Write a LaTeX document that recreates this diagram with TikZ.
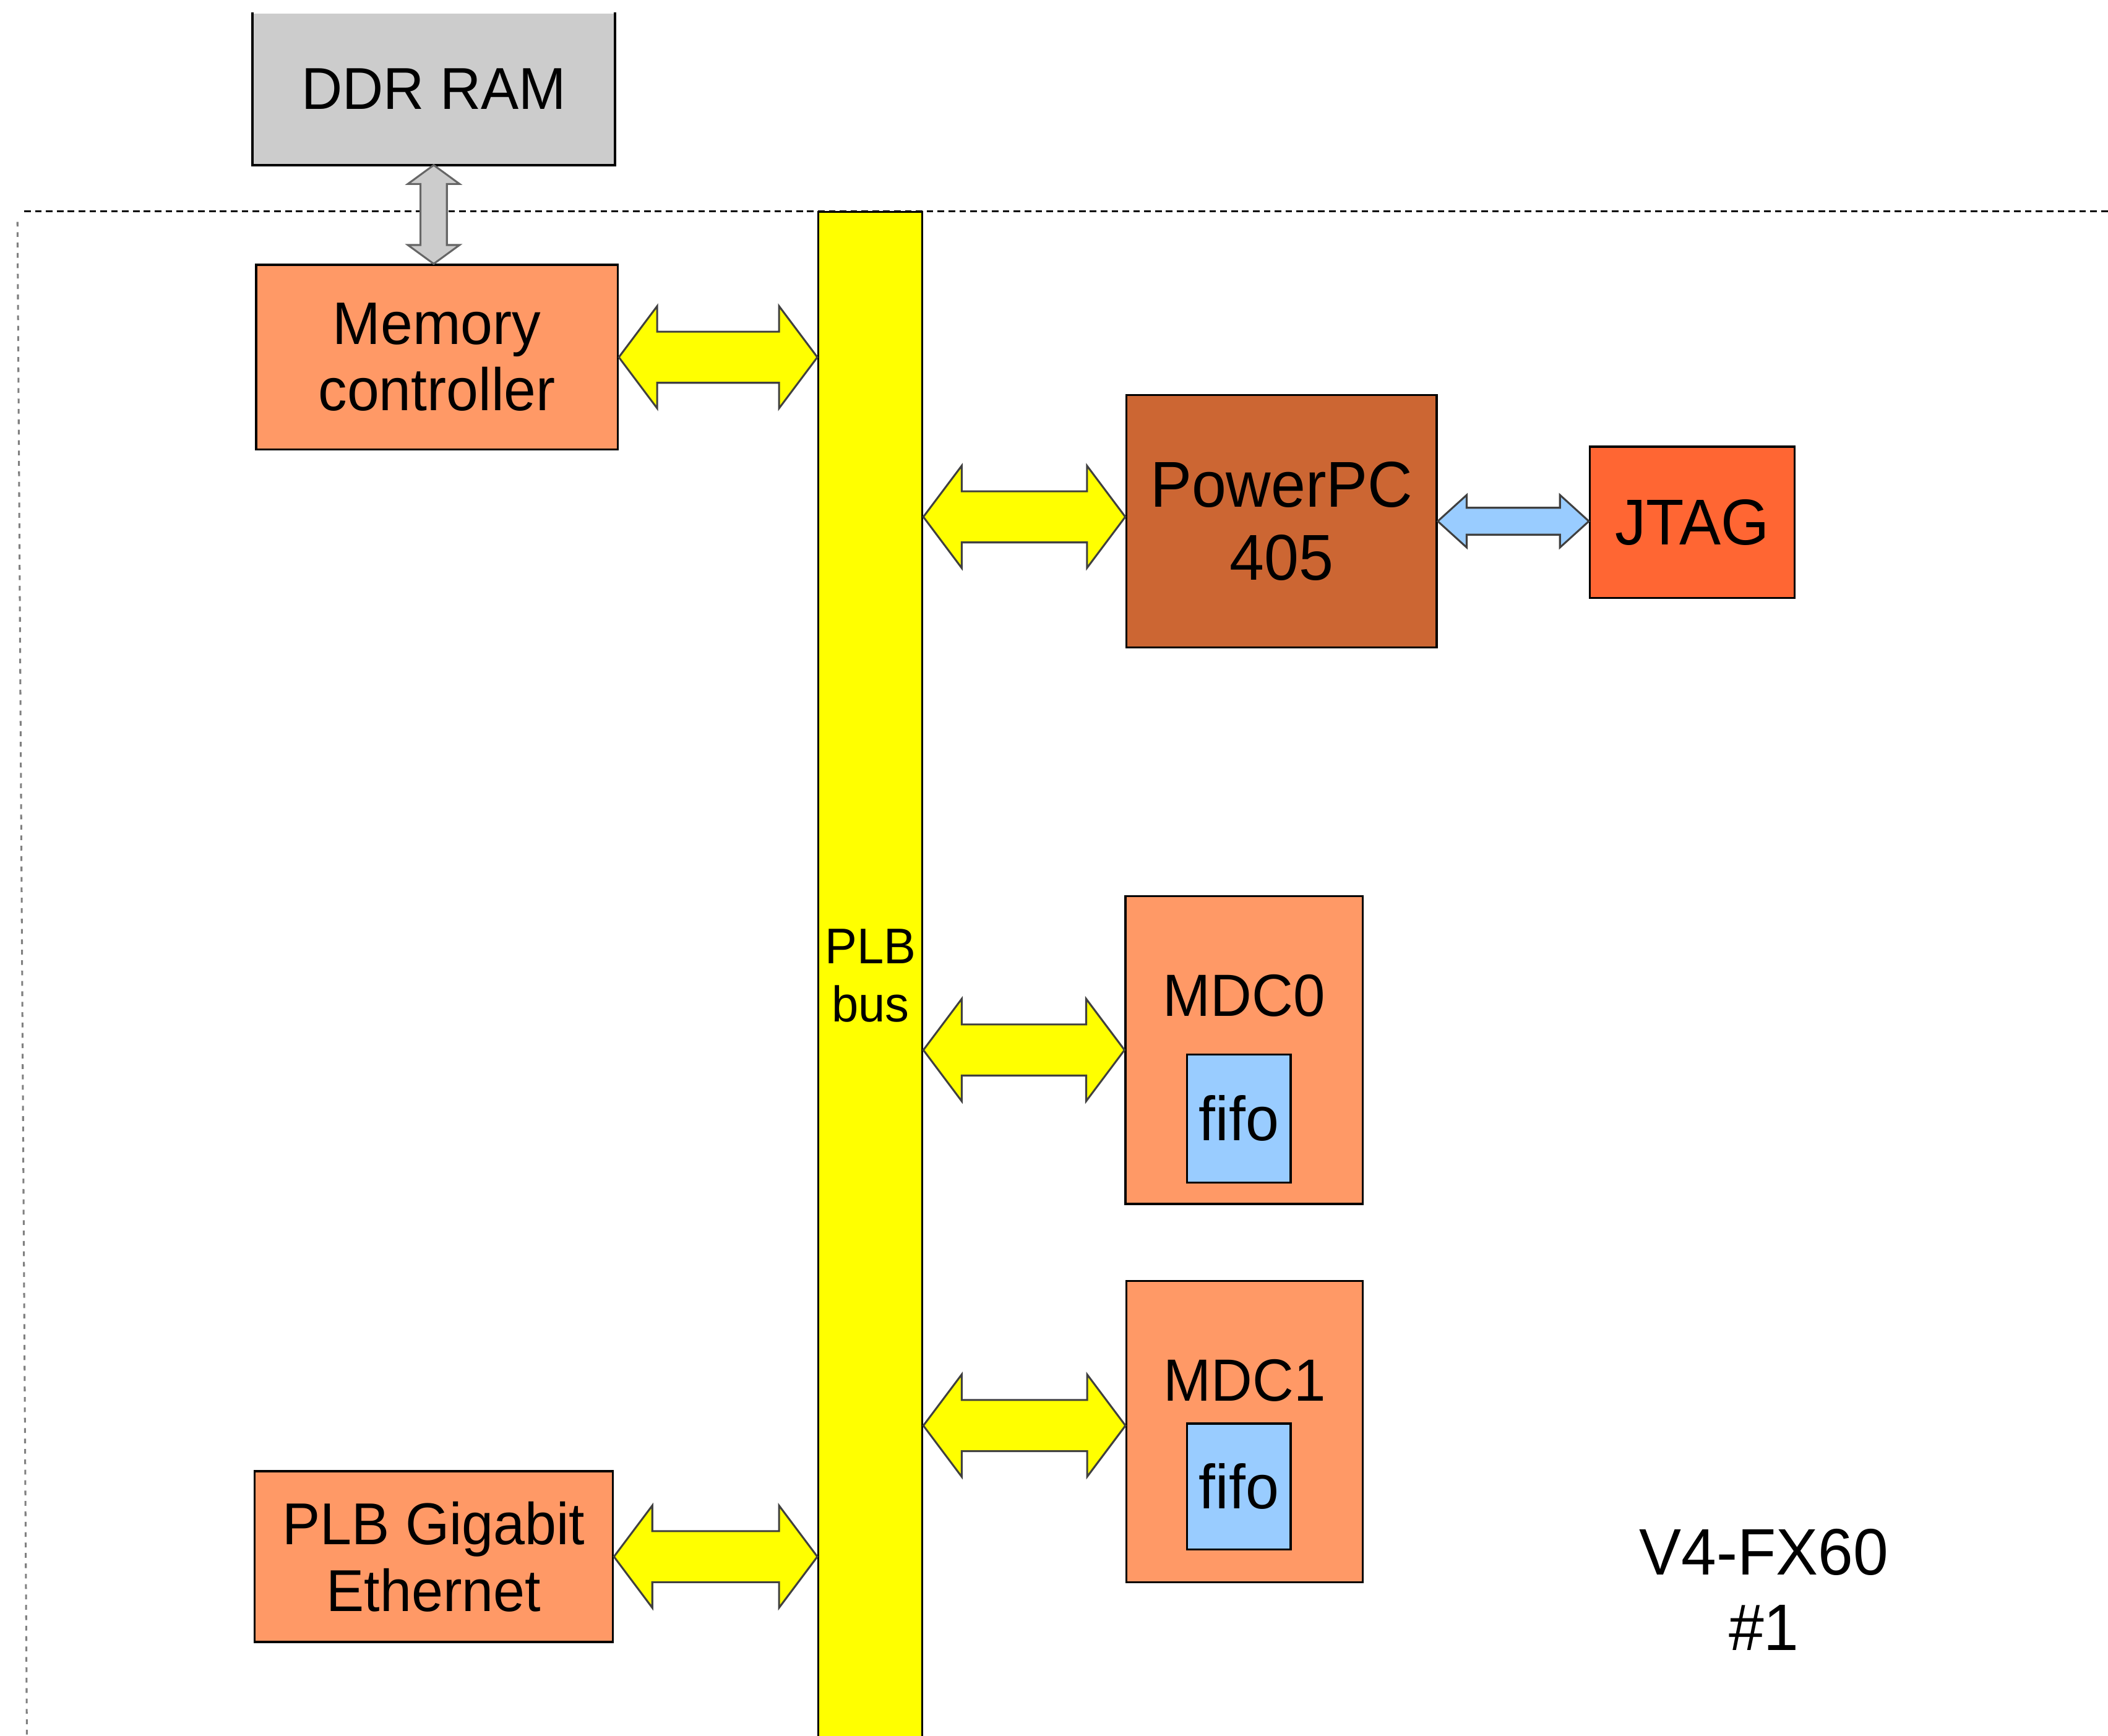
\documentclass[tikz,border=0pt]{standalone}
\usepackage{fontspec}
\setmainfont[FakeStretch=0.96]{Liberation Sans}
\usepackage{tikz}
\usetikzlibrary{calc}
\definecolor{ddrGray}{HTML}{CCCCCC}
\definecolor{coreSalmon}{HTML}{FF9966}
\definecolor{ppcBrown}{HTML}{CC6633}
\definecolor{jtagOrange}{HTML}{FF6633}
\definecolor{fifoBlue}{HTML}{99CCFF}
\definecolor{busYellow}{HTML}{FFFF00}
\newcommand{\fs}[2]{\fontsize{#1}{#2}\selectfont}
% block arrows: style, from, to, head half width, shaft half width, head length
\newcommand{\dblArrowH}[6]{\path[#1] let \p1=(#2), \p2=(#3) in
	(\x1,\y1) -- (\x1+#6,\y1+#4) -- (\x1+#6,\y1+#5) -- (\x2-#6,\y1+#5) -- (\x2-#6,\y1+#4)
	-- (\x2,\y1) -- (\x2-#6,\y1-#4) -- (\x2-#6,\y1-#5) -- (\x1+#6,\y1-#5) -- (\x1+#6,\y1-#4) -- cycle;}
\newcommand{\dblArrowV}[6]{\path[#1] let \p1=(#2), \p2=(#3) in
	(\x1,\y1) -- (\x1+#4,\y1-#6) -- (\x1+#5,\y1-#6) -- (\x1+#5,\y2+#6) -- (\x1+#4,\y2+#6)
	-- (\x1,\y2) -- (\x1-#4,\y2+#6) -- (\x1-#5,\y2+#6) -- (\x1-#5,\y1-#6) -- (\x1-#4,\y1-#6) -- cycle;}

\begin{document}
\begin{tikzpicture}[x=0.01cm, y=-0.01cm,
			compBox/.style={shape=rectangle, draw=black, line width=0.45pt, inner sep=0pt, align=center, fill=coreSalmon},
			yellowArrow/.style={fill=busYellow, draw=black!75, line width=0.4pt},
			blueArrow/.style={fill=fifoBlue, draw=black!75, line width=0.4pt},
			grayArrow/.style={fill=ddrGray, draw=black!60, line width=0.4pt}]
\useasboundingbox (0,0) rectangle (1568,1291);
\clip (0,0) rectangle (1568,1291);

\draw[line width=0.4pt, dash pattern=on 1.4pt off 0.9pt] (18,157) -- (1568,157);
\draw[gray, line width=0.4pt, dash pattern=on 1pt off 1.2pt] (13,165) -- (20,1291);

\node[compBox, fill=ddrGray, draw=none, minimum width=2.678cm, minimum height=1.12cm, font=\fs{12.5}{14}] (ddr) at (322.6,66) {DDR RAM};
\draw[line width=0.45pt] (ddr.north west) |- (ddr.south east) -- (ddr.north east);
\node[compBox, minimum width=2.689cm, minimum height=1.373cm, font=\fs{12.7}{14}] (mc) at (325,265.75) {Memory\\controller};
\node[compBox, fill=busYellow, minimum width=0.772cm, minimum height=11.42cm] (bus) at (647.4,729) {};
\node[align=center, font=\fs{10.6}{12.3}] (busName) at (647.4,725.6) {PLB\\bus};
\node[compBox, fill=ppcBrown, minimum width=2.307cm, minimum height=1.879cm, font=\fs{13.7}{15.5}] (ppc) at (953.25,387.75) {PowerPC\\405};
\node[compBox, fill=jtagOrange, minimum width=1.521cm, minimum height=1.125cm, font=\fs{13.7}{15.5}] (jtag) at (1258.75,388.65) {JTAG};

\node[compBox, minimum width=1.762cm, minimum height=2.29cm] (mdc0) at (925.4,781.1) {};
\node[anchor=base, font=\fs{12.6}{14}] (mdc0name) at (925.4,756) {MDC0};
\node[compBox, fill=fifoBlue, minimum width=0.77cm, minimum height=0.952cm, font=\fs{13.2}{15}] (fifo0) at (921.5,832) {fifo};
\node[compBox, minimum width=1.755cm, minimum height=2.24cm] (mdc1) at (925.75,1065) {};
\node[anchor=base, font=\fs{12.6}{14}] (mdc1name) at (925.75,1042) {MDC1};
\node[compBox, fill=fifoBlue, minimum width=0.77cm, minimum height=0.935cm, font=\fs{13.2}{15}] (fifo1) at (921.5,1105.75) {fifo};

\node[compBox, minimum width=2.664cm, minimum height=1.269cm, font=\fs{12.5}{14.2}] (gige) at (322.6,1158) {PLB Gigabit\\Ethernet};
\node[align=center, font=\fs{13.9}{16}] (chip) at (1312,1182.5) {V4-FX60\\\#1};

\dblArrowV{grayArrow}{ddr.south}{mc.north}{0.192cm}{0.098cm}{0.14cm}
\dblArrowH{yellowArrow}{mc.east}{bus.west}{0.38cm}{0.19cm}{0.285cm}
\dblArrowH{yellowArrow}{[yshift=0.0325cm]bus.east |- ppc.west}{ppc.west}{0.38cm}{0.19cm}{0.285cm}
\dblArrowH{yellowArrow}{bus.east |- mdc0.west}{mdc0.west}{0.38cm}{0.19cm}{0.285cm}
\dblArrowH{yellowArrow}{[yshift=0.045cm]bus.east |- mdc1.west}{mdc1.west}{0.38cm}{0.19cm}{0.285cm}
\dblArrowH{yellowArrow}{gige.east}{bus.west}{0.38cm}{0.19cm}{0.285cm}
\dblArrowH{blueArrow}{ppc.east}{jtag.west}{0.195cm}{0.10cm}{0.215cm}
\end{tikzpicture}
\end{document}
